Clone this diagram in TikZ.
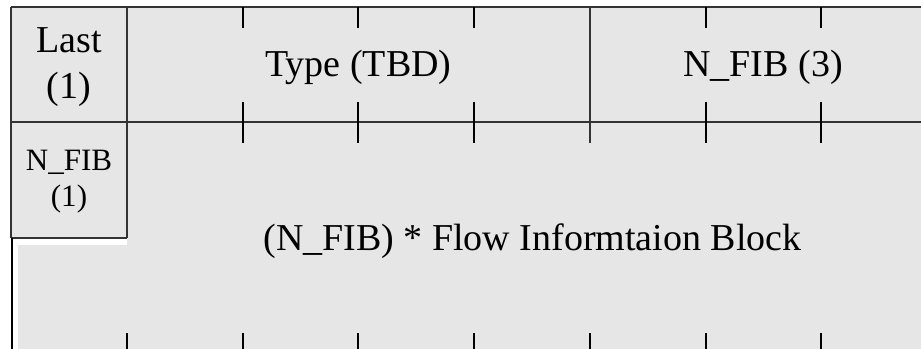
\documentclass[tikz,border=0pt]{standalone}
\usepackage{fontspec}
\setmainfont{Liberation Serif}
\definecolor{cellgray}{HTML}{E6E6E6}
\definecolor{linegray}{HTML}{333333}
\tikzset{
  big/.style={font=\fontsize{28.5pt}{34pt}\selectfont, inner sep=0pt, anchor=base},
  small/.style={font=\fontsize{23.3pt}{28pt}\selectfont, inner sep=0pt, anchor=base},
  rule/.style={draw=linegray, line width=0.8pt},
  tick/.style={draw=black, line width=0.8pt},
}
\begin{document}
\begin{tikzpicture}[x=0.75pt,y=-0.75pt]
\useasboundingbox (0,0) rectangle (921,349);
\fill[white] (0,0) rectangle (921,349);
% background fill
\fill[cellgray] (11,7) rectangle (921,349);
\fill[white] (12,238) rectangle (18,349);
\fill[white] (12,238) rectangle (127,245);
% frame lines
\draw[rule] (11,7) -- (921,7);
\draw[rule] (11,7) -- (11,238);
\draw[rule] (11,122) -- (921,122);
\draw[rule] (127,7) -- (127,238);
\draw[rule] (590,7) -- (590,143);
\draw[draw=linegray, line width=1.5pt] (11,238) -- (127,238);
\draw[draw=black, line width=1.6pt] (11.6,238) -- (11.6,349);
% ticks
\foreach \x in {243,358,474,706,821}{
  \draw[tick] (\x,7) -- (\x,28);
  \draw[tick] (\x,102) -- (\x,143);
}
\foreach \x in {127,243,358,474,590,706,821}{
  \draw[tick] (\x,333) -- (\x,349);
}
% texts
\node[big] (last) at (69,53) {Last};
\node[big] (lastn) at (69,99) {(1)};
\node[big] (type) at (358.5,77) {Type (TBD)};
\node[big] (nfib3) at (763,77) {N\_FIB (3)};
\node[small] (nfib1) at (69,171) {N\_FIB};
\node[small] (nfib1n) at (69,207) {(1)};
\node[big] (fib) at (532.5,250) {(N\_FIB) * Flow Informtaion Block};
\end{tikzpicture}
\end{document}
